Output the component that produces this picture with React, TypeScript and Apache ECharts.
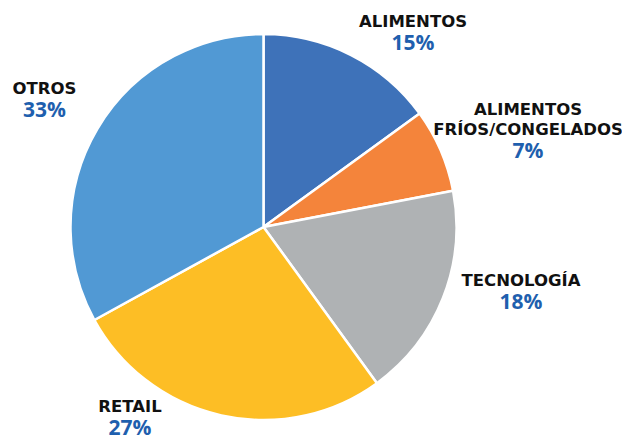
import React, { useEffect, useRef } from "react";
import * as echarts from "echarts";

const categories = ["ALIMENTOS", "ALIMENTOS\nFRÍOS/CONGELADOS", "TECNOLOGÍA", "RETAIL", "OTROS"];
const values = [15, 7, 18, 27, 33];
const colors = ["#3E72B9", "#F4843B", "#AFB2B4", "#FDBE25", "#5199D4"];
const labelPos: [number, number][] = [
  [413, 32],
  [528, 130],
  [521, 291],
  [130, 416.5],
  [44.5, 98.5],
];

export default function App() {
  const ref = useRef<HTMLDivElement>(null);
  useEffect(() => {
    if (!ref.current) return;
    const chart = echarts.init(ref.current, undefined, { renderer: "svg" });
    chart.setOption({
      animation: false,
      backgroundColor: "#ffffff",
      series: [
        {
          type: "pie",
          center: [263.5, 227],
          radius: [0, 193],
          startAngle: 90,
          clockwise: true,
          itemStyle: { borderColor: "#ffffff", borderWidth: 2.5 },
          labelLine: { show: false },
          label: {
            show: true,
            position: "outside",
            overflow: "none",
            formatter: (p: any) => `{n|${p.name}}\n{p|${p.value}%}`,
            align: "center",
            rich: {
              n: {
                fontFamily: "DejaVu Sans",
                fontWeight: "bold",
                fontSize: 16.5,
                color: "#111111",
                lineHeight: 20,
                align: "center",
              },
              p: {
                fontFamily: "Open Sans",
                fontWeight: "bold",
                fontSize: 21,
                color: "#1F5FAE",
                lineHeight: 21,
                align: "center",
              },
            },
          },
          labelLayout: (params: any) => ({
            x: labelPos[params.dataIndex][0],
            y: labelPos[params.dataIndex][1],
            align: "center",
            verticalAlign: "middle",
          }),
          data: categories.map((c, i) => ({
            name: c,
            value: values[i],
            itemStyle: { color: colors[i] },
          })),
        },
      ],
    });
    return () => chart.dispose();
  }, []);
  return (
    <div
      ref={ref}
      style={{ position: "fixed", left: 0, top: 0, width: 622, height: 435 }}
    />
  );
}
